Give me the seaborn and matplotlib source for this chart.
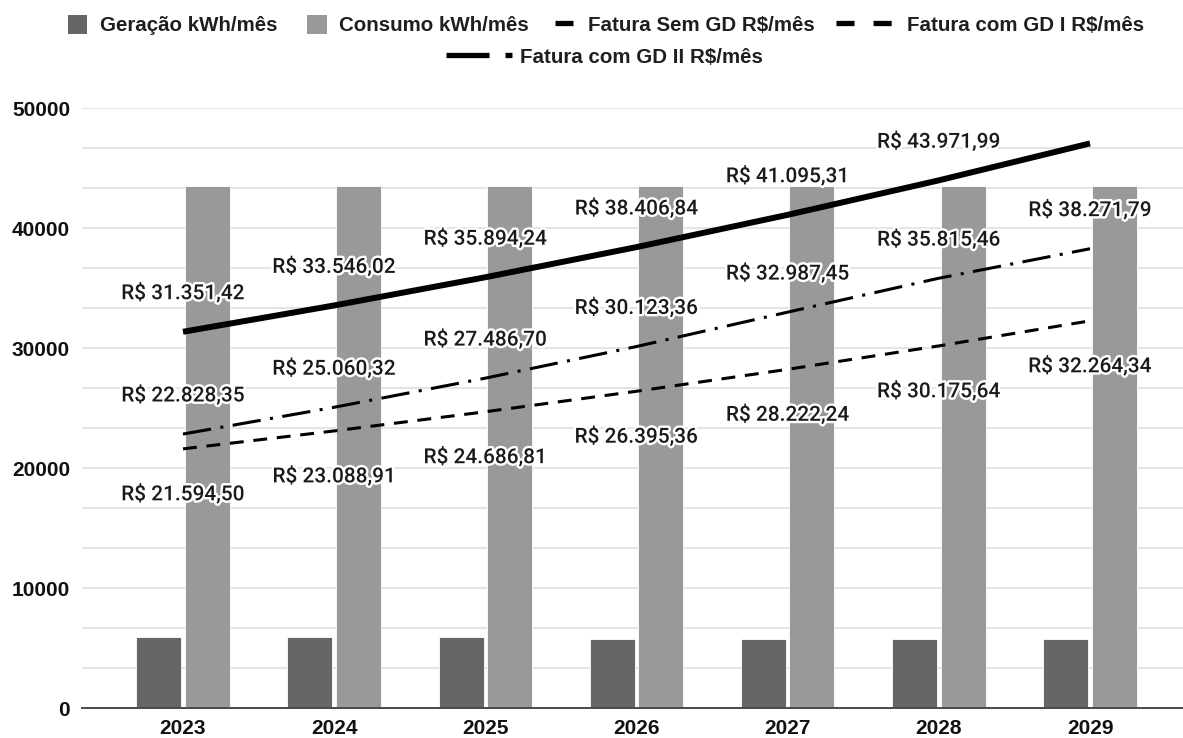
import numpy as np
import pandas as pd
import matplotlib
matplotlib.use("Agg")
import matplotlib.pyplot as plt
import matplotlib.patheffects as pe
from matplotlib.lines import Line2D
from matplotlib.patches import Patch
from matplotlib.ticker import MultipleLocator
import seaborn as sns

# ---- data -------------------------------------------------------------
anos = ["2023", "2024", "2025", "2026", "2027", "2028", "2029"]
geracao = [5900, 5900, 5900, 5750, 5750, 5750, 5750]
consumo = [43500, 43500, 43500, 43500, 43500, 43500, 43500]
fatura_sem_gd = [31351.42, 33546.02, 35894.24, 38406.84, 41095.31, 43971.99, 47050.03]
fatura_gd_i = [21594.50, 23088.91, 24686.81, 26395.36, 28222.24, 30175.64, 32264.34]
fatura_gd_ii = [22828.35, 25060.32, 27486.70, 30123.36, 32987.45, 35815.46, 38271.79]
rotulados_sem_gd = 6  # last point of this series carries no label

serie_bar = ["Geração kWh/mês", "Consumo kWh/mês"]
serie_lin = ["Fatura Sem GD R$/mês", "Fatura com GD I R$/mês", "Fatura com GD II R$/mês"]

# ---- style ------------------------------------------------------------
sns.set_theme(style="white")
SANS = ["Liberation Sans", "Arimo", "DejaVu Sans"]
LABEL = ["Roboto", "DejaVu Sans"]
plt.rcParams["font.family"] = SANS
plt.rcParams["lines.scale_dashes"] = False  # dash lengths given in points

W, H = 1183, 738
fig = plt.figure(figsize=(W / 100, H / 100), dpi=100)
ax = fig.add_axes([82 / W, 30 / H, 1101 / W, 600 / H])

df = pd.DataFrame({
    "ano": anos * 2,
    "valor": geracao + consumo,
    "serie": [serie_bar[0]] * len(anos) + [serie_bar[1]] * len(anos),
})
cores_bar = ["#666666", "#999999"]
sns.barplot(data=df, x="ano", y="valor", hue="serie", hue_order=serie_bar,
            palette=cores_bar, width=0.64, gap=0.07, saturation=1,
            edgecolor="white", linewidth=0.6, legend=False, ax=ax, zorder=2)

xs = np.arange(len(anos))
estilos = {
    serie_lin[0]: dict(lw=4.3, dashes=None),
    serie_lin[1]: dict(lw=2.2, dashes=(10.0, 7.0)),
    serie_lin[2]: dict(lw=2.2, dashes=(20.5, 6.8, 2.2, 6.8)),
}
for nome, vals in zip(serie_lin, [fatura_sem_gd, fatura_gd_i, fatura_gd_ii]):
    st = estilos[nome]
    sns.lineplot(x=xs, y=vals, color="black", lw=st["lw"], ax=ax, zorder=4,
                 solid_capstyle="butt", dash_capstyle="butt")
    if st["dashes"] is not None:
        ax.lines[-1].set_dashes(st["dashes"])

def fmt_brl(v):
    s = f"{v:,.2f}"
    s = s.replace(",", "X").replace(".", ",").replace("X", ".")
    return "R$ " + s

halo = [pe.withStroke(linewidth=3.5, foreground="white")]
lab_kw = dict(textcoords="offset points", ha="center", va="center",
              fontsize=15, fontweight="medium", family=LABEL,
              color="#1a1a1a", path_effects=halo, zorder=6, annotation_clip=False)

for i, v in enumerate(fatura_sem_gd[:rotulados_sem_gd]):
    ax.annotate(fmt_brl(v), (xs[i], v), xytext=(0, 28), **lab_kw)
for i, v in enumerate(fatura_gd_ii):
    ax.annotate(fmt_brl(v), (xs[i], v), xytext=(0, 28), **lab_kw)
for i, v in enumerate(fatura_gd_i):
    ax.annotate(fmt_brl(v), (xs[i], v), xytext=(0, -32.5), **lab_kw)

# ---- axes -------------------------------------------------------------
ax.set_xlim(-0.668, 6.615)
ax.set_ylim(0, 50000)
ax.yaxis.set_major_locator(MultipleLocator(10000))
ax.yaxis.set_minor_locator(MultipleLocator(10000 / 3))
ax.grid(which="both", axis="y", color="#e2e2e2", lw=1.3, zorder=0)
ax.grid(False, axis="x")
ax.set_axisbelow(True)
for s in ["top", "right", "left"]:
    ax.spines[s].set_visible(False)
ax.spines["bottom"].set_color("#4a4a4a")
ax.spines["bottom"].set_linewidth(1.4)
ax.spines["bottom"].set_zorder(5)
ax.set_xlabel("")
ax.set_ylabel("")
ax.tick_params(axis="x", length=0, pad=8.2, labelsize=15)
ax.tick_params(axis="y", which="both", length=0, pad=8.6, labelsize=15)
for t in ax.get_xticklabels() + ax.get_yticklabels():
    t.set_fontweight("bold")
    t.set_color("#111111")

# ---- legend (one box per entry, two centred rows) ----------------------
FS = 14.8
FS_PX = FS * 100 / 72
h_sq = [Patch(facecolor=c, edgecolor="none") for c in cores_bar]
h_sem = Line2D([], [], color="black", lw=3.8, solid_capstyle="butt")
h_gd1 = Line2D([], [], color="black", lw=3.8, dashes=(13.0, 13.7), dash_capstyle="butt")
h_gd2 = Line2D([], [], color="black", lw=3.8, dashes=(31.0, 11.5, 5.0, 30.0),
               dash_capstyle="butt")

entradas = [
    # handle, label, icon left px, icon width px, text start px, row centre px
    (h_sq[0], serie_bar[0], 68, 19, 100, 25),
    (h_sq[1], serie_bar[1], 307, 20, 339, 25),
    (h_sem, serie_lin[0], 555, 18, 588, 25),
    (h_gd1, serie_lin[1], 836, 57, 907, 25),
    (h_gd2, serie_lin[2], 446, 66, 520, 57),
]
for h, lab, x0, wpx, xt, yc in entradas:
    fig.legend([h], [lab], loc="center left",
               bbox_to_anchor=(x0 / W, 1 - yc / H), frameon=False,
               borderpad=0, borderaxespad=0,
               handlelength=wpx / FS_PX, handleheight=21 / FS_PX,
               handletextpad=(xt - x0 - wpx) / FS_PX,
               prop={"family": SANS, "weight": "bold", "size": FS},
               labelcolor="#1f1f1f")

fig.savefig("out.png", dpi=100)
